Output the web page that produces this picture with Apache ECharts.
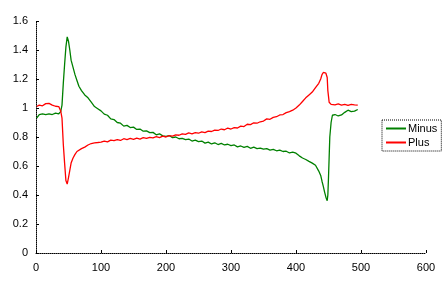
<!DOCTYPE html>
<html>
<head>
<meta charset="utf-8">
<script src="https://cdn.jsdelivr.net/npm/echarts@6/dist/echarts.min.js"></script>
<style>html,body{margin:0;padding:0;background:#fff}#c{width:445px;height:289px}</style>
</head>
<body>
<div id="c"></div>
<script>
var xValues = [1,5,10,15,20,25,30,35,38,40,42,44,46,48,50,52,54,57,60,63,66,70,75,80,85,90,95,
  100,105,110,115,120,125,130,135,140,145,150,155,160,165,170,175,180,185,190,195,200,205,210,215,220,225,230,235,240,245,250,255,260,265,270,275,280,285,290,295,300,305,310,315,320,325,330,335,340,345,350,355,360,365,370,375,380,385,390,395,400,
  405,410,415,420,425,430,435,438,440,442,444,446,448,449,450,451,452,454,456,460,465,470,475,480,485,490,495];
var minusValues = [0.93,0.955,0.96,0.955,0.96,0.955,0.965,0.96,0.975,1.02,1.17,1.30,1.42,1.49,1.46,1.40,1.33,1.28,1.23,1.19,1.15,1.12,1.09,1.07,1.04,1.01,0.995,
  0.98,0.958,0.95,0.925,0.92,0.9,0.895,0.875,0.88,0.865,0.868,0.852,0.855,0.84,0.842,0.83,0.832,0.815,0.822,0.808,0.805,0.81,0.795,0.80,0.788,0.79,0.782,0.786,0.772,0.778,0.768,0.772,0.758,0.765,0.752,0.76,0.748,0.756,0.745,0.75,0.74,0.745,0.732,0.738,0.728,0.735,0.722,0.73,0.72,0.724,0.716,0.72,0.71,0.715,0.705,0.71,0.70,0.702,0.69,0.695,0.688,
  0.67,0.655,0.645,0.632,0.62,0.605,0.565,0.535,0.495,0.46,0.42,0.385,0.36,0.40,0.52,0.66,0.80,0.90,0.95,0.955,0.945,0.952,0.97,0.985,0.975,0.978,0.99];
var plusValues = [1.01,1.02,1.015,1.03,1.032,1.02,1.012,1.01,0.98,0.93,0.75,0.62,0.50,0.475,0.52,0.57,0.62,0.655,0.68,0.70,0.71,0.72,0.73,0.745,0.755,0.76,0.762,
  0.765,0.772,0.766,0.778,0.775,0.782,0.776,0.788,0.782,0.79,0.784,0.792,0.786,0.795,0.79,0.798,0.794,0.802,0.796,0.806,0.80,0.81,0.806,0.815,0.812,0.822,0.818,0.828,0.822,0.83,0.826,0.835,0.83,0.84,0.838,0.848,0.845,0.855,0.85,0.862,0.855,0.865,0.862,0.875,0.872,0.888,0.885,0.898,0.895,0.905,0.91,0.925,0.922,0.935,0.94,0.952,0.955,0.968,0.975,0.985,1.0,
  1.02,1.045,1.07,1.09,1.11,1.14,1.17,1.20,1.23,1.245,1.255,1.24,1.21,1.12,1.08,1.04,1.03,1.025,1.03,1.022,1.028,1.02,1.025,1.018,1.025,1.022,1.02];
var xTicks = [0,100,200,300,400,500,600];
var yTicks = [0,0.2,0.4,0.6,0.8,1,1.2,1.4,1.6];

function pairs(xs, ys){ return xs.map(function(x,i){return [x, ys[i]];}); }

var chart = echarts.init(document.getElementById('c'), null, {renderer:'canvas'});
var font = 'Liberation Sans, Arial, sans-serif';
chart.setOption({
  animation: false,
  backgroundColor: '#fff',
  textStyle: {fontFamily: font},
  grid: {left: 36, right: 19, top: 21, bottom: 36},
  legend: {
    orient: 'vertical', left: 382, top: 120,
    padding: [3, 4, 3, 4], itemGap: 3,
    itemWidth: 20, itemHeight: 2,
    borderColor: '#000', borderWidth: 1, borderType: 'dotted',
    textStyle: {fontFamily: font, fontSize: 11, color: '#000', padding: [0,0,0,-3]},
    data: [{name:'Minus', icon:'rect'}, {name:'Plus', icon:'rect'}]
  },
  xAxis: {
    type: 'value', min: xTicks[0], max: xTicks[xTicks.length-1], interval: 100,
    axisLine: {lineStyle: {color: '#000', type: 'dotted', width: 1}},
    axisTick: {inside: true, length: 3, lineStyle: {color: '#000'}},
    axisLabel: {color: '#000', fontSize: 11, margin: 9, fontFamily: font},
    splitLine: {show: false}
  },
  yAxis: {
    type: 'value', min: yTicks[0], max: yTicks[yTicks.length-1], interval: 0.2,
    axisLine: {show: true, lineStyle: {color: '#000', type: 'dotted', width: 1}},
    axisTick: {show: true, inside: true, length: 3, lineStyle: {color: '#000'}},
    axisLabel: {color: '#000', fontSize: 11, margin: 8, fontFamily: font},
    splitLine: {show: false}
  },
  series: [
    {name: 'Minus', type: 'line', data: pairs(xValues, minusValues), showSymbol: false, symbol: 'none',
     lineStyle: {color: '#008000', width: 1.3}, itemStyle: {color: '#008000'}},
    {name: 'Plus', type: 'line', data: pairs(xValues, plusValues), showSymbol: false, symbol: 'none',
     lineStyle: {color: '#ff0000', width: 1.3}, itemStyle: {color: '#ff0000'}}
  ]
});
</script>
</body>
</html>
